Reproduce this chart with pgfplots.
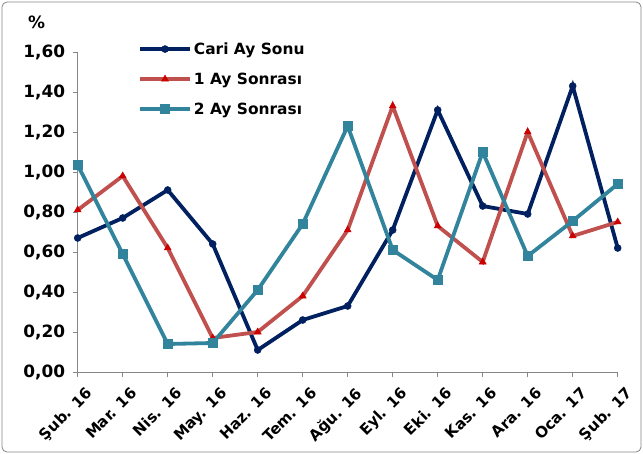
\documentclass[border=0pt]{standalone}
\usepackage{pgfplots}
\pgfplotsset{compat=1.18}
\usepackage{fontspec}
\setmainfont{DejaVu Sans}
\definecolor{cnavy}{RGB}{0,32,96}
\definecolor{cred}{RGB}{192,80,77}
\definecolor{cmark}{RGB}{204,0,0}
\definecolor{cteal}{RGB}{49,132,155}
\definecolor{cframe}{RGB}{134,134,134}
\newcommand{\lblfont}{\bfseries\fontsize{17}{19}\selectfont}
\newcommand{\xlblfont}{\bfseries\fontsize{15.2}{17}\selectfont}
\newcommand{\legfont}{\bfseries\fontsize{15.5}{17}\selectfont}
\begin{document}
\begin{tikzpicture}
\useasboundingbox (-77.7bp,-82bp) rectangle (565.3bp,372bp);
\draw[cframe, line width=0.8bp, rounded corners=5bp] (-75.7bp,-80bp) rectangle (563.3bp,370bp);
\node[font=\lblfont, anchor=center] at (-41bp,350bp) {\%};
\begin{axis}[at={(0,0)}, anchor=south west, scale only axis,
  width=540bp, height=320bp,
  xmin=0, xmax=12, ymin=0, ymax=1.6,
  ytick={0,0.2,0.4,0.6,0.8,1.0,1.2,1.4,1.6},
  xtick={0,1,2,3,4,5,6,7,8,9,10,11,12},
  xticklabels={Şub. 16,Mar. 16,Nis. 16,May. 16,Haz. 16,Tem. 16,Ağu. 16,Eyl. 16,Eki. 16,Kas. 16,Ara. 16,Oca. 17,Şub. 17},
  axis x line*=bottom, axis y line*=left,
  axis line style={cframe, line width=0.8bp},
  tick style={cframe, line width=0.8bp},
  major tick length=5bp, tick align=outside,
  yticklabel style={font=\lblfont},
  /pgf/number format/assume math mode=true,
  yticklabel style={xshift=-4bp, /pgf/number format/.cd, fixed, fixed zerofill, precision=2, use comma},
  xticklabel style={font=\xlblfont, rotate=45, anchor=north east, yshift=-8bp, xshift=2bp},
  clip=false,
  legend style={draw=none, fill=none, at={(0.106,1.043)}, anchor=north west, font=\legfont, row sep=13bp},
  legend cell align=left,
  legend image code/.code={\draw[mark repeat=2,mark phase=2,#1] plot coordinates {(0bp,0bp) (25bp,0bp) (50bp,0bp)};},
  every axis plot/.append style={line width=3.8bp},
]
\addplot[cnavy, mark=*, mark size=3.5bp, mark options={fill=cnavy, draw=cnavy, line width=0.5bp}]
 coordinates {(0,0.67)(1,0.77)(2,0.91)(3,0.64)(4,0.11)(5,0.26)(6,0.33)(7,0.71)(8,1.31)(9,0.83)(10,0.79)(11,1.43)(12,0.62)};
\addlegendentry{Cari Ay Sonu}
\addplot[cred, mark=triangle*, mark size=4bp, mark options={fill=cmark, draw=cmark, line width=0.5bp}]
 coordinates {(0,0.81)(1,0.98)(2,0.62)(3,0.17)(4,0.20)(5,0.38)(6,0.71)(7,1.33)(8,0.73)(9,0.55)(10,1.20)(11,0.68)(12,0.75)};
\addlegendentry{1 Ay Sonrası}
\addplot[cteal, mark=square*, mark size=4.5bp, mark options={fill=cteal, draw=cteal, line width=0.5bp}]
 coordinates {(0,1.035)(1,0.59)(2,0.14)(3,0.145)(4,0.41)(5,0.74)(6,1.23)(7,0.61)(8,0.46)(9,1.10)(10,0.58)(11,0.755)(12,0.94)};
\addlegendentry{2 Ay Sonrası}
\end{axis}
\end{tikzpicture}
\end{document}
